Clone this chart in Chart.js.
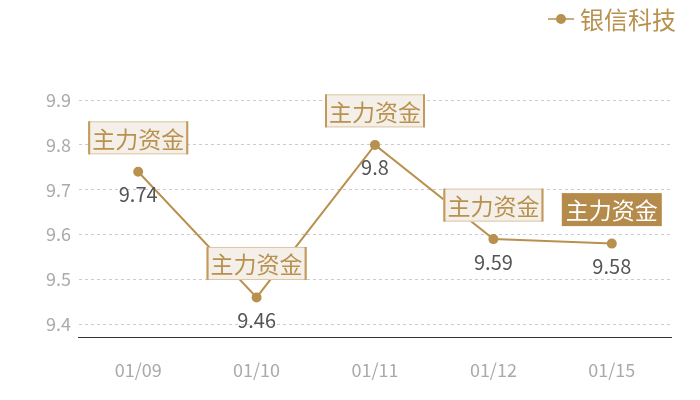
<!DOCTYPE html>
<html>
<head>
<meta charset="utf-8">
<script src="https://cdn.jsdelivr.net/npm/chart.js@4/dist/chart.umd.min.js"></script>
<style>
  html, body { margin: 0; padding: 0; background: #fff; }
  #wrap { width: 700px; height: 400px; }
</style>
</head>
<body>
<div id="wrap"><canvas id="lineChart"></canvas></div>
<script>
// chart data
const dates = ['01/09', '01/10', '01/11', '01/12', '01/15'];
const prices = [9.74, 9.46, 9.8, 9.59, 9.58];
const yTicks = [9.4, 9.5, 9.6, 9.7, 9.8, 9.9];
const tagText = '主力资金';
const highlighted = [false, false, false, false, true];
const seriesName = '银信科技';

const GOLD = '#b8914f';
const CJK = '"Noto Sans CJK SC", "Noto Sans", sans-serif';

// draws the tag boxes, value labels and the top-right legend
const labelPlugin = {
    id: 'tagLabels',
    afterDatasetsDraw(chart) {
        const ctx = chart.ctx;
        const meta = chart.getDatasetMeta(0);
        ctx.save();
        meta.data.forEach((pt, i) => {
            // value below the point
            ctx.font = '20px ' + CJK;
            ctx.fillStyle = '#555555';
            ctx.textAlign = 'center';
            ctx.textBaseline = 'middle';
            ctx.fillText(String(prices[i]), pt.x, pt.y + 23);

            // tag box above the point
            const w = 100, h = 33;
            const bx = pt.x - w / 2, by = pt.y - 34 - h / 2;
            if (highlighted[i]) {
                ctx.fillStyle = '#b58b4c';
                ctx.fillRect(bx, by, w, h);
                ctx.fillStyle = '#ffffff';
            } else {
                ctx.fillStyle = '#f4f0e9';
                ctx.fillRect(bx, by, w, h);
                ctx.strokeStyle = '#dcc6a3';
                ctx.lineWidth = 1;
                ctx.strokeRect(bx + 0.5, by + 0.5, w - 1, h - 1);
                ctx.fillStyle = '#c49a5c';
                ctx.fillRect(bx, by, 2, h);
                ctx.fillRect(bx + w - 2, by, 2, h);
                ctx.fillStyle = GOLD;
            }
            ctx.font = '23px ' + CJK;
            ctx.fillText(tagText, pt.x, by + h / 2 + 1);
        });

        // legend
        ctx.strokeStyle = GOLD;
        ctx.lineWidth = 1.5;
        ctx.beginPath();
        ctx.moveTo(548, 19);
        ctx.lineTo(574, 19);
        ctx.stroke();
        ctx.fillStyle = GOLD;
        ctx.beginPath();
        ctx.arc(561, 19, 5, 0, Math.PI * 2);
        ctx.fill();
        ctx.font = '24px ' + CJK;
        ctx.textAlign = 'left';
        ctx.textBaseline = 'middle';
        ctx.fillText(seriesName, 580, 20);
        ctx.restore();
    }
};

new Chart(document.getElementById('lineChart').getContext('2d'), {
    type: 'line',
    data: {
        labels: dates,
        datasets: [{
            label: seriesName,
            data: prices,
            borderColor: GOLD,
            backgroundColor: GOLD,
            borderWidth: 2,
            pointRadius: 4,
            pointHoverRadius: 4,
            tension: 0
        }]
    },
    options: {
        responsive: true,
        maintainAspectRatio: false,
        animation: false,
        layout: { padding: { top: 100, right: 29, left: 38, bottom: 5 } },
        plugins: {
            legend: { display: false },
            tooltip: { enabled: false }
        },
        scales: {
            x: {
                offset: true,
                grid: { display: false },
                border: { display: true, color: '#333333', width: 1 },
                ticks: {
                    color: '#aaaaaa',
                    padding: 14,
                    font: { size: 18, family: CJK }
                }
            },
            y: {
                min: 9.371,
                max: 9.9,
                afterBuildTicks: axis => {
                    axis.ticks = yTicks.map(v => ({ value: v }));
                },
                grid: { color: '#cccccc', drawTicks: false },
                border: { display: false, dash: [3, 3] },
                ticks: {
                    color: '#aaaaaa',
                    padding: 8,
                    font: { size: 18, family: CJK },
                    callback: v => v.toFixed(1)
                }
            }
        }
    },
    plugins: [labelPlugin]
});
</script>
</body>
</html>
